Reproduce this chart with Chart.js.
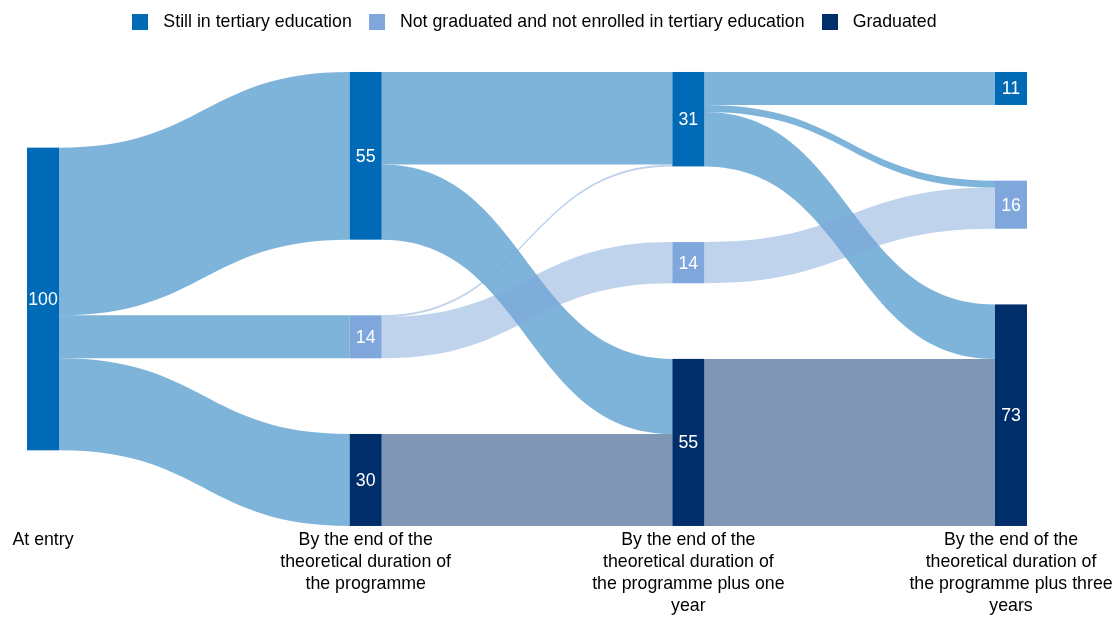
<!DOCTYPE html>
<html>
<head>
<meta charset="utf-8">
<title>Tertiary education pathways</title>
<script src="https://cdn.jsdelivr.net/npm/chart.js@4.4.1/dist/chart.umd.min.js"></script>
<style>
  html, body { margin: 0; padding: 0; background: #fff; }
</style>
</head>
<body>
<canvas id="chart" width="1118" height="617"></canvas>
<script>
// Columns of the diagram (x axis labels)
const stageLabels = [
  ["At entry"],
  ["By the end of the", "theoretical duration of", "the programme"],
  ["By the end of the", "theoretical duration of", "the programme plus one", "year"],
  ["By the end of the", "theoretical duration of", "the programme plus three", "years"]
];

// Outcome categories (legend)
const categories = [
  "Still in tertiary education",
  "Not graduated and not enrolled in tertiary education",
  "Graduated"
];

// Nodes: which column and which category each one is
const nodeStage = [0, 1, 1, 1, 2, 2, 2, 3, 3, 3];
const nodeCategory = [0, 0, 1, 2, 0, 1, 2, 0, 1, 2];

// Flows between nodes, in % of entrants
const flowSource = [0, 0, 0, 1, 1, 2, 2, 3, 4, 4, 4, 5, 6];
const flowTarget = [1, 2, 3, 4, 6, 4, 5, 6, 7, 8, 9, 8, 9];
const flowValue = [55.4, 14.2, 30.4, 30.6, 24.8, 0.6, 13.6, 30.4, 10.9, 2.3, 18.0, 13.6, 55.2];

// styling
const nodeColors = ["#006ab6", "#7fa7dc", "#002e6b"];
const flowColors = ["rgba(0,106,182,0.5)", "rgba(127,167,220,0.5)", "rgba(0,46,107,0.5)"];
const NODE_W = 32;
const COLUMN_SPAN = 150; // value units covered by a column, gaps included

// use a narrow font when there is one, like the original
function pickFont() {
  const c = document.createElement("canvas").getContext("2d");
  const s = "theoretical duration of";
  c.font = "20px serif";
  const base = c.measureText(s).width;
  c.font = "20px 'Liberation Sans Narrow', serif";
  const narrow = c.measureText(s).width;
  if (Math.abs(base - narrow) > 0.5) return { family: "'Liberation Sans Narrow', 'Arial Narrow'", size: 21 };
  return { family: "'Liberation Sans', Arial, sans-serif", size: 17.75 };
}
const FONT = pickFont();

function swatch(color) {
  const c = document.createElement("canvas");
  c.width = 16; c.height = 16;
  const g = c.getContext("2d");
  g.fillStyle = color;
  g.fillRect(0, 0, 16, 16);
  return c;
}

function layoutNodes() {
  const inSum = nodeStage.map(() => 0), outSum = nodeStage.map(() => 0);
  flowValue.forEach((v, f) => { outSum[flowSource[f]] += v; inSum[flowTarget[f]] += v; });
  const value = nodeStage.map((_, i) => Math.max(inSum[i], outSum[i]));
  const top = [];
  stageLabels.forEach((_, s) => {
    const ids = nodeStage.map((st, i) => (st === s ? i : -1)).filter(i => i >= 0);
    const total = ids.reduce((a, i) => a + value[i], 0);
    const gap = ids.length > 1 ? (COLUMN_SPAN - total) / (ids.length - 1) : 0;
    let y = ids.length > 1 ? 0 : (COLUMN_SPAN - total) / 2;
    ids.forEach(i => { top[i] = y; y += value[i] + gap; });
  });
  return { value, top };
}

const sankeyPlugin = {
  id: "sankey",
  afterDatasetsDraw(chart) {
    const { ctx, scales: { x, y } } = chart;
    const { value, top } = layoutNodes();
    const outOff = top.slice(), inOff = top.slice();
    const ids = flowValue.map((_, f) => f);
    const band = ids.map(() => ({}));
    ids.slice().sort((a, b) => top[flowTarget[a]] - top[flowTarget[b]]).forEach(f => {
      band[f].s0 = outOff[flowSource[f]];
      outOff[flowSource[f]] += flowValue[f];
    });
    ids.slice().sort((a, b) => top[flowSource[a]] - top[flowSource[b]]).forEach(f => {
      band[f].t0 = inOff[flowTarget[f]];
      inOff[flowTarget[f]] += flowValue[f];
    });

    ctx.save();
    // links
    ids.forEach(f => {
      const s = flowSource[f], t = flowTarget[f], v = flowValue[f];
      const x0 = x.getPixelForValue(nodeStage[s]) + NODE_W / 2;
      const x1 = x.getPixelForValue(nodeStage[t]) - NODE_W / 2;
      const xm = (x0 + x1) / 2;
      const a0 = y.getPixelForValue(band[f].s0), a1 = y.getPixelForValue(band[f].s0 + v);
      const b0 = y.getPixelForValue(band[f].t0), b1 = y.getPixelForValue(band[f].t0 + v);
      ctx.fillStyle = flowColors[nodeCategory[s]];
      ctx.beginPath();
      ctx.moveTo(x0, a0);
      ctx.bezierCurveTo(xm, a0, xm, b0, x1, b0);
      ctx.lineTo(x1, b1);
      ctx.bezierCurveTo(xm, b1, xm, a1, x0, a1);
      ctx.closePath();
      ctx.fill();
    });
    // nodes + labels
    ctx.font = FONT.size + "px " + FONT.family;
    ctx.textAlign = "center";
    ctx.textBaseline = "middle";
    nodeStage.forEach((st, i) => {
      const xc = x.getPixelForValue(st);
      const p0 = y.getPixelForValue(top[i]), p1 = y.getPixelForValue(top[i] + value[i]);
      ctx.fillStyle = nodeColors[nodeCategory[i]];
      ctx.fillRect(xc - NODE_W / 2, p0, NODE_W, p1 - p0);
      ctx.fillStyle = "#fff";
      ctx.fillText(String(Math.round(value[i])), xc, (p0 + p1) / 2 + 1);
    });
    ctx.restore();
  }
};

new Chart(document.getElementById("chart"), {
  type: "scatter",
  data: { datasets: [] },
  plugins: [sankeyPlugin],
  options: {
    responsive: false,
    animation: false,
    devicePixelRatio: 1,
    layout: { padding: { left: 12, right: 67.5, top: 2, bottom: 0 } },
    plugins: {
      tooltip: { enabled: false },
      legend: {
        position: "top",
        labels: {
          usePointStyle: true,
          pointStyleWidth: 28.5,
          padding: 10.75,
          color: "#000",
          font: { family: FONT.family, size: FONT.size },
          generateLabels: () => categories.map((c, i) => ({
            text: c,
            fillStyle: nodeColors[i],
            strokeStyle: nodeColors[i],
            lineWidth: 0,
            pointStyle: swatch(nodeColors[i]),
            hidden: false,
            datasetIndex: i
          }))
        }
      }
    },
    scales: {
      x: {
        type: "linear",
        min: -0.0961,
        max: 3.1224,
        afterBuildTicks: scale => { scale.ticks = stageLabels.map((_, i) => ({ value: i })); },
        afterFit: scale => { scale.paddingLeft = 0; scale.paddingRight = 0; },
        grid: { display: false, drawTicks: false },
        border: { display: false },
        ticks: {
          autoSkip: false,
          maxRotation: 0,
          minRotation: 0,
          padding: 0,
          color: "#000",
          font: { family: FONT.family, size: FONT.size, lineHeight: 22 / FONT.size },
          callback: (v, i) => stageLabels[i]
        }
      },
      y: {
        type: "linear",
        reverse: true,
        display: false,
        min: -10.4,
        max: 151
      }
    }
  }
});
</script>
</body>
</html>
